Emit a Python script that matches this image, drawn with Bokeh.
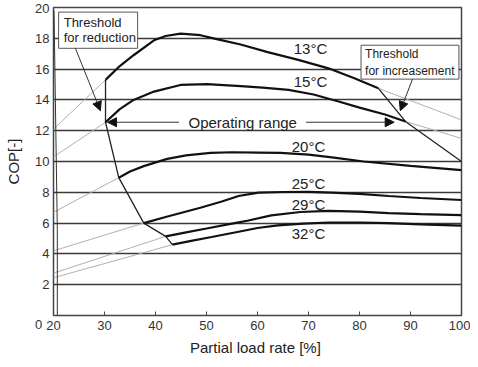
from bokeh.plotting import figure
from bokeh.models import Arrow, NormalHead, Range1d, FixedTicker
from bokeh.core.properties import value
from bokeh.embed import file_html
from bokeh.resources import INLINE

FONT = "Liberation Sans"

# ---- axis ticks ----
x_ticks = [20, 30, 40, 50, 60, 70, 80, 90, 100]
y_ticks = [0, 2, 4, 6, 8, 10, 12, 14, 16, 18, 20]
grid_levels = [2, 4, 6, 8, 10, 12, 14, 16, 18]

# ---- COP curves (partial load rate %, COP) ----
x_13 = [30.2, 33, 35.7, 39.7, 42, 44.9, 48.8, 52, 56.7, 62, 68, 73.9, 79, 83.7]
y_13 = [15.3, 16.2, 16.9, 17.87, 18.15, 18.3, 18.2, 17.95, 17.6, 17.1, 16.6, 16.05, 15.4, 14.75]

x_15 = [30.2, 33, 35.7, 39.7, 44.9, 50.1, 56.7, 61, 66.1, 71, 75.9, 80, 85, 89]
y_15 = [12.55, 13.4, 14.0, 14.54, 14.97, 15.03, 14.9, 14.8, 14.65, 14.35, 13.9, 13.5, 13.05, 12.6]

x_20 = [32.8, 35, 37.7, 42.3, 46, 50.8, 55, 60, 64.5, 70, 75, 80.8, 90, 100]
y_20 = [8.95, 9.35, 9.7, 10.17, 10.4, 10.56, 10.6, 10.58, 10.56, 10.45, 10.25, 10.0, 9.72, 9.44]

x_25 = [37.7, 42, 48.8, 53, 56.3, 60.2, 65, 70, 74.5, 80, 85.7, 92, 100]
y_25 = [6.0, 6.4, 7.0, 7.4, 7.76, 7.98, 8.02, 8.03, 7.98, 7.9, 7.76, 7.63, 7.5]

x_29 = [42, 46, 50, 56.3, 58, 62.7, 68.4, 73.9, 80, 85.7, 92, 100]
y_29 = [5.14, 5.4, 5.65, 6.05, 6.15, 6.5, 6.72, 6.8, 6.75, 6.65, 6.58, 6.52]

x_32 = [43.3, 47, 51, 56.3, 60, 64, 69, 74, 80, 85.7, 92, 100]
y_32 = [4.6, 4.85, 5.1, 5.44, 5.68, 5.85, 5.97, 6.04, 6.04, 6.0, 5.92, 5.83]

temp_labels = ["13°C", "15°C", "20°C", "25°C", "29°C", "32°C"]
temp_label_x = [70.4, 70.4, 70.0, 70.0, 70.0, 70.0]
temp_label_y = [17.35, 15.2, 11.0, 8.6, 7.2, 5.3]

# ---- grey extrapolations ----
ext_left_y0 = [12.1, 10.3, 6.7, 4.2, 2.75, 2.45]     # COP at 20 %
ext_right_13 = [83.7, 14.75, 100, 12.7]
ext_right_15 = [89, 12.6, 100, 11.5]

# ---- threshold lines ----
thr_red_x = [30.2, 30.2, 32.8, 37.7, 42, 43.3]
thr_red_y = [15.3, 12.55, 8.95, 6.0, 5.14, 4.6]
thr_low_x = [20.1, 20.75, 20.75]
thr_low_y = [19.8, 5.6, 0.0]
thr_inc_x = [83.7, 89, 100]
thr_inc_y = [14.75, 12.6, 10.0]

p = figure(width=470, height=358, output_backend="svg", toolbar_location=None,
           x_range=Range1d(20, 100), y_range=Range1d(0, 20),
           min_border_left=53, min_border_right=9, min_border_top=7, min_border_bottom=41)
p.background_fill_color = "white"
p.border_fill_color = "white"
p.outline_line_color = "#444444"
p.outline_line_width = 1.5

p.xaxis.ticker = FixedTicker(ticks=x_ticks)
p.yaxis.ticker = FixedTicker(ticks=y_ticks)
# the "0" label sits below and left of the origin in the original
p.yaxis.major_label_overrides = {0: "\n" + str(y_ticks[0]) + "\u2007"}
p.xgrid.visible = False
p.ygrid.ticker = FixedTicker(ticks=grid_levels)
p.ygrid.grid_line_color = "#3a3a3a"
p.ygrid.grid_line_width = 1.5

for ax in (p.xaxis[0], p.yaxis[0]):
    ax.axis_line_color = None
    ax.major_label_text_font = FONT
    ax.major_label_text_font_size = "13px"
    ax.major_label_text_color = "#333333"
    ax.axis_label_text_font = FONT
    ax.axis_label_text_font_size = "15px"
    ax.axis_label_text_font_style = "normal"
    ax.axis_label_text_color = "#222222"
    ax.minor_tick_line_color = None
p.xaxis.major_tick_in = 4
p.xaxis.major_tick_out = 0
p.xaxis.major_tick_line_color = "#444444"
p.xaxis.major_label_standoff = 5
p.xaxis.axis_label_standoff = 6
p.yaxis.major_tick_in = 0
p.yaxis.major_tick_out = 0
p.yaxis.major_label_standoff = 4
p.yaxis.axis_label_standoff = 10
p.xaxis.axis_label = "Partial load rate  [%]"
p.yaxis.axis_label = "COP[-]"

curves = [(x_13, y_13), (x_15, y_15), (x_20, y_20), (x_25, y_25), (x_29, y_29), (x_32, y_32)]

# grey extrapolations from 20 %
for (cx, cy), y0 in zip(curves, ext_left_y0):
    p.line([20, cx[0]], [y0, cy[0]], line_color="#b0b0b0", line_width=1)
for seg in (ext_right_13, ext_right_15):
    p.line([seg[0], seg[2]], [seg[1], seg[3]], line_color="#b0b0b0", line_width=1)

# threshold lines
p.line(thr_red_x, thr_red_y, line_color="#222222", line_width=1.3)
p.line(thr_low_x, thr_low_y, line_color="#333333", line_width=1)
p.line(thr_inc_x, thr_inc_y, line_color="#222222", line_width=1.3)

# main curves
for cx, cy in curves:
    p.line(cx, cy, line_color="#111111", line_width=2.2)

p.text(temp_label_x, temp_label_y, text=temp_labels, text_font=value(FONT),
       text_font_size="15px", text_align="center", text_baseline="middle", text_color="#222222")

# operating range
p.add_layout(Arrow(end=NormalHead(size=9, fill_color="#111111", line_color="#111111"),
                   x_start=44.6, y_start=12.55, x_end=30.6, y_end=12.55,
                   line_color="#333333", line_width=1))
p.add_layout(Arrow(end=NormalHead(size=9, fill_color="#111111", line_color="#111111"),
                   x_start=69.5, y_start=12.55, x_end=86.8, y_end=12.55,
                   line_color="#333333", line_width=1))
p.text([57.1], [12.55], text=["Operating range"], text_font=value(FONT),
       text_font_size="15px", text_align="center", text_baseline="middle", text_color="#222222")

# threshold annotation boxes
p.quad(left=[21.0, 80.3], right=[36.5, 99.5], bottom=[17.35, 15.35], top=[19.7, 17.55],
       fill_color="white", line_color="#555555", line_width=1)
p.text([22.0, 22.0], [19.0, 18.05], text=["Threshold", "for reduction"], text_font=value(FONT),
       text_font_size="13px", text_align="left", text_baseline="middle", text_color="#222222")
p.text([81.1, 81.1], [17.0, 15.9], text=["Threshold", "for increasement"], text_font=value(FONT),
       text_font_size="12px", text_align="left", text_baseline="middle", text_color="#222222")
p.add_layout(Arrow(end=NormalHead(size=9, fill_color="#111111", line_color="#111111"),
                   x_start=24.3, y_start=17.35, x_end=29.2, y_end=13.3,
                   line_color="#333333", line_width=1))
p.add_layout(Arrow(end=NormalHead(size=9, fill_color="#111111", line_color="#111111"),
                   x_start=90.4, y_start=15.35, x_end=88.0, y_end=13.3,
                   line_color="#333333", line_width=1))

open("out.html", "w").write(file_html(p, INLINE))
